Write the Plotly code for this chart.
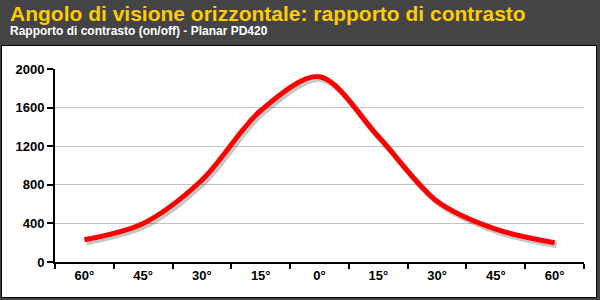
import plotly.graph_objects as go

angles = ["60°", "45°", "30°", "15°", "0°", "15°", "30°", "45°", "60°"]
contrast = [230, 400, 850, 1570, 1920, 1300, 630, 340, 200]
y_ticks = [0, 400, 800, 1200, 1600, 2000]

title_text = "Angolo di visione orizzontale: rapporto di contrasto"
subtitle_text = "Rapporto di contrasto (on/off) - Planar PD420"

W, H = 600, 300
ML, MR, MT, MB = 55, 16, 69, 38
PW, PH = W - ML - MR, H - MT - MB

xs = list(range(len(angles)))
YMAX = 2000
XR = [-0.5, len(angles) - 0.5]

def px2x(px):
    return (px - ML) / PW

def py2y(py):
    return (H - MB - py) / PH

fig = go.Figure()

# invisible trace to anchor the main axes
fig.add_trace(go.Scatter(
    x=xs, y=contrast, mode="lines", opacity=0,
    line=dict(color="rgba(0,0,0,0)", width=0),
    hoverinfo="skip", showlegend=False))

# shadow (same data, drawn on offset overlay axes)
dx = 2.0 / PW * len(angles)
dy = 2.5 / PH * YMAX
fig.add_trace(go.Scatter(
    x=xs, y=contrast, mode="lines", xaxis="x2", yaxis="y2",
    line=dict(color="rgba(0,0,0,0.22)", width=6, shape="spline", smoothing=0.9),
    hoverinfo="skip", showlegend=False))

fig.add_trace(go.Scatter(
    x=xs, y=contrast, mode="lines", xaxis="x3", yaxis="y3",
    line=dict(color="#ff0000", width=5, shape="spline", smoothing=0.9),
    showlegend=False))

tick_font = dict(family="Liberation Sans, Arial, sans-serif", size=13, color="#000000", weight="bold")

fig.update_layout(
    width=W, height=H,
    margin=dict(l=ML, r=MR, t=MT, b=MB),
    paper_bgcolor="#444444",
    plot_bgcolor="rgba(0,0,0,0)",
    xaxis=dict(
        range=XR,
        tickmode="array", tickvals=xs, ticktext=angles,
        ticks="", showgrid=False, zeroline=False,
        showline=True, linecolor="#000000", linewidth=2,
        tickfont=tick_font,
        minor=dict(tickmode="array", tickvals=[i - 0.5 for i in range(len(angles) + 1)],
                   ticks="outside", ticklen=5, tickwidth=2, tickcolor="#000000", showgrid=False),
        fixedrange=True,
    ),
    yaxis=dict(
        range=[0, YMAX],
        tickmode="array", tickvals=y_ticks,
        ticks="outside", ticklen=6, tickwidth=2, tickcolor="#000000",
        showgrid=True, gridcolor="#c4c4c4", gridwidth=1,
        zeroline=False, showline=True, linecolor="#000000", linewidth=2,
        tickfont=tick_font,
        fixedrange=True,
    ),
    xaxis2=dict(range=[XR[0] - dx, XR[1] - dx], overlaying="x", visible=False, fixedrange=True),
    yaxis2=dict(range=[0 + dy, YMAX + dy], overlaying="y", visible=False, fixedrange=True),
    xaxis3=dict(range=XR, overlaying="x", visible=False, fixedrange=True),
    yaxis3=dict(range=[0, YMAX], overlaying="y", visible=False, fixedrange=True),
    shapes=[
        dict(type="rect", xref="paper", yref="paper", layer="below",
             x0=px2x(1.5), x1=px2x(596.5), y0=py2y(297.5), y1=py2y(45.5),
             fillcolor="#ffffff", line=dict(color="#000000", width=1)),
    ],
    annotations=[
        dict(text="<b>" + title_text + "</b>", xref="paper", yref="paper",
             x=px2x(8), y=py2y(27), xanchor="left", yanchor="bottom", showarrow=False,
             font=dict(family="Liberation Sans, Arial, sans-serif", size=21, color="#ffcc00")),
        dict(text="<b>" + subtitle_text + "</b>", xref="paper", yref="paper",
             x=px2x(8), y=py2y(40), xanchor="left", yanchor="bottom", showarrow=False,
             font=dict(family="Liberation Sans, Arial, sans-serif", size=12, color="#ffffff")),
    ],
)

fig.write_html("out.html")
